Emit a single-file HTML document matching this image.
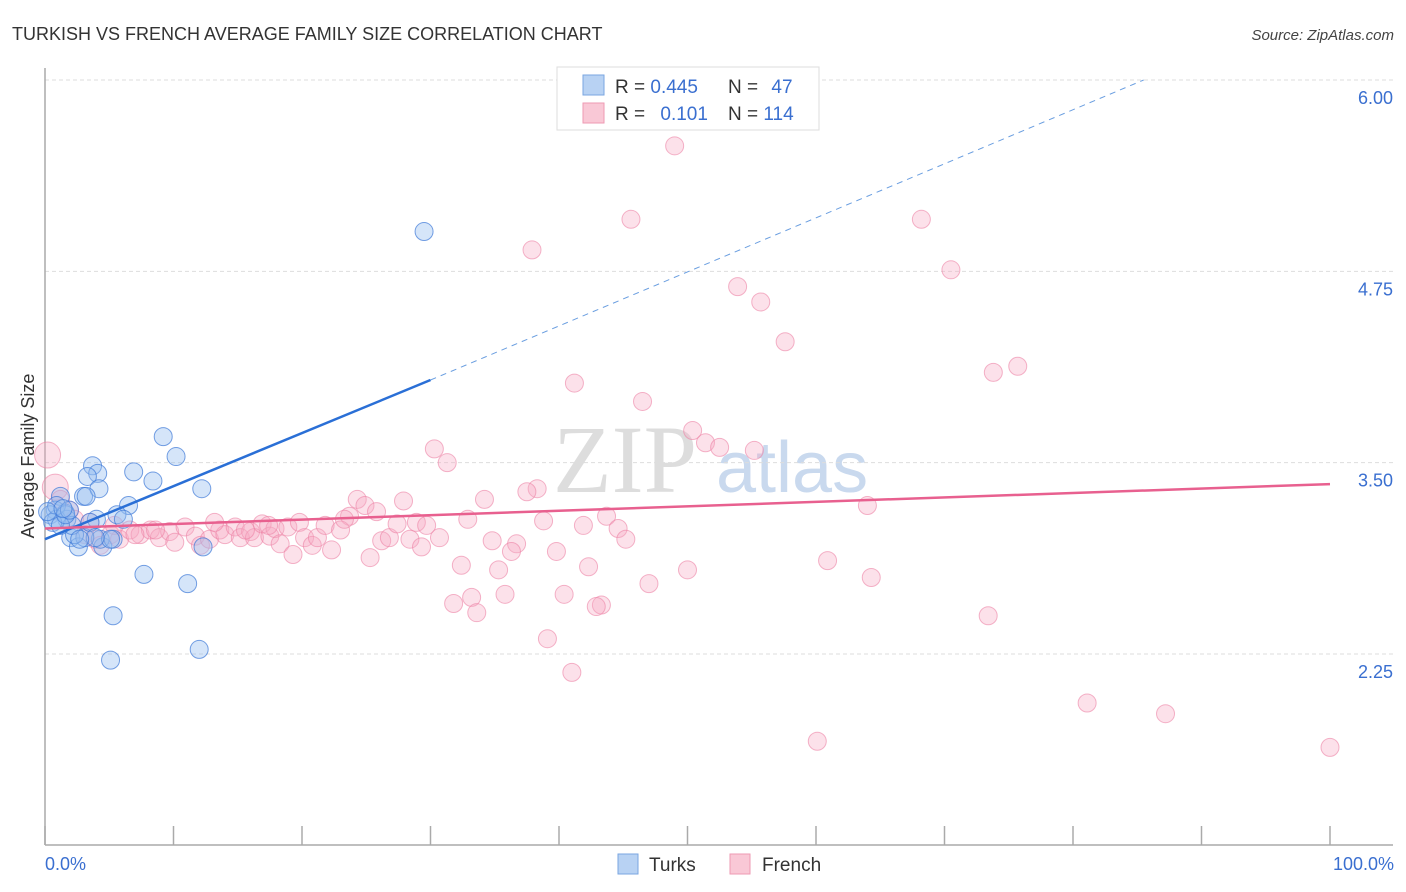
<!DOCTYPE html>
<html><head><meta charset="utf-8"><style>
body{margin:0;background:#fff;font-family:"Liberation Sans",sans-serif;}
svg{display:block}
</style></head><body>
<svg id="chart" width="1406" height="892" xmlns="http://www.w3.org/2000/svg">
<text x="12" y="40" font-size="18" fill="#333">TURKISH VS FRENCH AVERAGE FAMILY SIZE CORRELATION CHART</text>
<text x="1394" y="40" font-size="15" fill="#444" text-anchor="end" font-style="italic">Source: ZipAtlas.com</text>
<text x="553" y="492" font-size="96" fill="#ddd" font-family="Liberation Serif">ZIP</text>
<text x="716" y="492" font-size="72" fill="#c9d9ee">atlas</text>
<g id="grid"></g>
<g id="axes"></g>
<g id="marks"></g>
<text transform="translate(34,456) rotate(-90)" font-size="18" fill="#333" text-anchor="middle">Average Family Size</text>
<text x="45" y="870" font-size="18" fill="#3a6fd0">0.0%</text>
<text x="1394" y="870" font-size="18" fill="#3a6fd0" text-anchor="end">100.0%</text>
<g>
<rect x="557" y="67" width="262" height="63" fill="#fff" stroke="#ddd"/>
<rect x="583" y="75" width="21" height="20" fill="#b8d2f3" stroke="#7aa6e0"/>
<rect x="583" y="103" width="21" height="20" fill="#f9c8d6" stroke="#ee9ab3"/>
<text x="615" y="93" font-size="19" fill="#333">R = <tspan fill="#3a6fd0">0.445</tspan></text>
<text x="728" y="93" font-size="19" fill="#333">N = <tspan fill="#3a6fd0" dx="8">47</tspan></text>
<text x="615" y="120" font-size="19" fill="#333">R = <tspan fill="#3a6fd0" dx="10">0.101</tspan></text>
<text x="728" y="120" font-size="19" fill="#333">N = <tspan fill="#3a6fd0">114</tspan></text>
</g>
<g>
<rect x="618" y="854" width="20" height="20" fill="#b8d2f3" stroke="#7aa6e0"/>
<text x="649" y="871" font-size="19" fill="#333">Turks</text>
<rect x="730" y="854" width="20" height="20" fill="#f9c8d6" stroke="#ee9ab3"/>
<text x="762" y="871" font-size="19" fill="#333">French</text>
</g>
</svg>
<script>
const yTicks=[6.00,4.75,3.50,2.25];
const yTickLabels=["6.00","4.75","3.50","2.25"];
const turksX=[29.5,9.2,10.2,3.7,4.1,6.9,8.4,3.3,12.2,3.0,4.2,6.5,5.6,6.1,4.0,1.2,0.8,0.4,1.6,1.7,0.9,2.0,2.6,4.5,4.3,5.3,7.7,11.1,5.3,5.1,12.0,12.3,3.1,3.5,2.3,0.9,0.6,5.1,3.9,2.1,1.2,0.2,3.2,2.7,1.6,1.9,1.4];
const turksY=[5.01,3.67,3.54,3.48,3.43,3.44,3.38,3.41,3.33,3.28,3.33,3.22,3.16,3.13,3.13,3.28,3.19,3.16,3.17,3.13,3.13,3.01,2.95,2.95,3.0,3.0,2.77,2.71,2.50,2.21,2.28,2.95,3.01,3.11,3.03,3.22,3.11,3.0,3.01,3.09,3.09,3.18,3.28,3.0,3.16,3.19,3.20];
const frenchX=[49.0,45.6,68.2,37.9,70.5,53.9,55.7,57.6,75.7,73.8,41.2,46.5,50.4,51.4,52.5,55.2,30.3,31.3,38.3,37.5,34.2,27.9,24.3,24.9,25.8,23.7,64.0,43.7,32.9,38.8,41.9,44.6,45.2,34.8,36.7,36.3,39.8,32.4,35.3,42.3,50.0,60.9,64.3,47.0,33.2,35.8,31.8,33.6,40.4,43.3,42.9,39.1,41.0,73.4,81.1,87.2,60.1,100,0.2,0.8,
1.2,1.9,2.3,3.1,3.9,4.3,5.1,5.8,6.6,7.4,8.2,8.9,9.7,10.1,10.9,11.7,12.1,12.8,13.6,14.0,14.8,15.2,16.0,16.3,16.9,17.5,17.9,18.3,18.9,19.3,19.8,20.2,20.8,21.2,21.8,22.3,23.0,23.3,25.3,26.2,26.8,27.4,28.4,28.9,29.3,29.7,30.7,17.4,13.2,15.6,8.6,7.0,5.4,3.5];
const frenchY=[5.57,5.09,5.09,4.89,4.76,4.65,4.55,4.29,4.13,4.09,4.02,3.90,3.71,3.63,3.60,3.58,3.59,3.50,3.33,3.31,3.26,3.25,3.26,3.22,3.18,3.15,3.22,3.15,3.13,3.12,3.09,3.07,3.00,2.99,2.97,2.92,2.92,2.83,2.80,2.82,2.80,2.86,2.75,2.71,2.62,2.64,2.58,2.52,2.64,2.57,2.56,2.35,2.13,2.50,1.93,1.86,1.68,1.64,3.55,3.34,
3.26,3.19,3.13,3.03,3.0,2.96,3.03,3.0,3.06,3.03,3.06,3.01,3.05,2.98,3.08,3.02,2.96,3.0,3.06,3.03,3.08,3.01,3.05,3.01,3.10,3.02,3.07,2.97,3.08,2.90,3.11,3.01,2.96,3.01,3.09,2.93,3.06,3.13,2.88,2.99,3.01,3.10,3.0,3.11,2.95,3.09,3.01,3.09,3.11,3.06,3.06,3.03,3.09,3.11];
const turksTrend=[[0,3.00],[30,4.04],[85.5,6.0]];
const frenchTrend=[[0,3.07],[100,3.36]];
const sx=v=>45+v*12.85, sy=v=>80+(6-v)*153.07;
const NS="http://www.w3.org/2000/svg";
function mk(p,t,a){const e=document.createElementNS(NS,t);for(const k in a)e.setAttribute(k,a[k]);p.appendChild(e);return e;}
const grid=document.getElementById('grid'),axes=document.getElementById('axes'),marks=document.getElementById('marks');
yTicks.forEach((v,i)=>{
 const l=mk(grid,'line',{x1:45,x2:1393,y1:sy(v),y2:sy(v),stroke:'#ddd','stroke-dasharray':'4,3'});
 
 
 const t=mk(axes,'text',{x:1393,y:sy(v)+24,'font-size':18,fill:'#3a6fd0','text-anchor':'end'});
 t.textContent=yTickLabels[i];
 
 
});
let ax=mk(axes,'line',{x1:45,x2:45,y1:68,y2:845,stroke:'#aaa','stroke-width':1.5});


ax=mk(axes,'line',{x1:45,x2:1393,y1:845,y2:845,stroke:'#aaa','stroke-width':1.5});


for(let i=0;i<=10;i++){const t=mk(axes,'line',{x1:sx(i*10),x2:sx(i*10),y1:826,y2:845,stroke:'#aaa','stroke-width':1.5});
 
 }
frenchX.forEach((x,i)=>{const big=i>=58&&i<60;const c=mk(marks,'circle',{cx:sx(x),cy:sy(frenchY[i]),r:big?13:9,fill:'rgba(247,170,195,0.35)',stroke:'rgba(236,130,165,0.6)','stroke-width':1});
 
 });
turksX.forEach((x,i)=>{const c=mk(marks,'circle',{cx:sx(x),cy:sy(turksY[i]),r:9,fill:'rgba(150,190,240,0.4)',stroke:'rgba(60,120,215,0.7)','stroke-width':1});
 
 });
let tl=mk(marks,'line',{x1:sx(turksTrend[0][0]),y1:sy(turksTrend[0][1]),x2:sx(turksTrend[1][0]),y2:sy(turksTrend[1][1]),stroke:'#2a6fd6','stroke-width':2.5});


tl=mk(marks,'line',{x1:sx(turksTrend[1][0]),y1:sy(turksTrend[1][1]),x2:sx(turksTrend[2][0]),y2:sy(turksTrend[2][1]),stroke:'#6a9ee0','stroke-width':1,'stroke-dasharray':'6,5'});


tl=mk(marks,'line',{x1:sx(frenchTrend[0][0]),y1:sy(frenchTrend[0][1]),x2:sx(frenchTrend[1][0]),y2:sy(frenchTrend[1][1]),stroke:'#e8608f','stroke-width':2.5});


</script>
</body></html>
